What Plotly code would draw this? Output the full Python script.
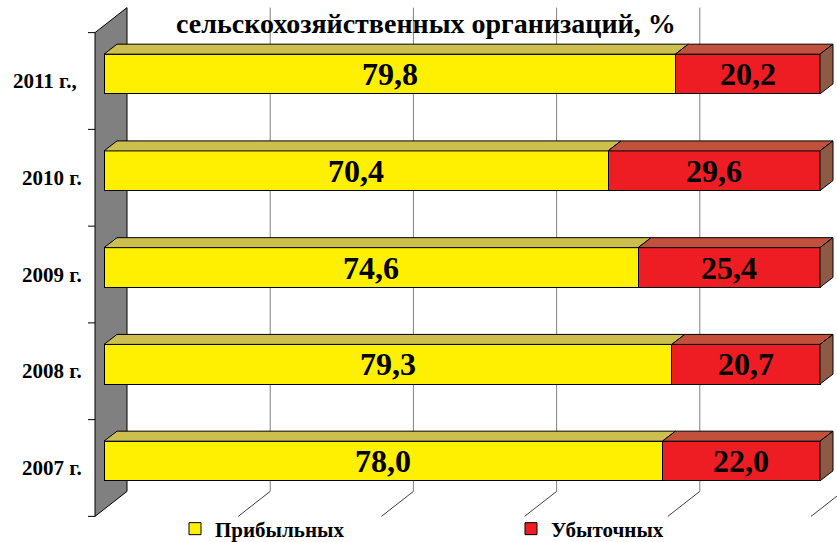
import plotly.graph_objects as go

# ---- data ----
categories = ["2007 г.", "2008 г.", "2009 г.", "2010 г.", "2011 г.,\u00a0"]
profitable = [78.0, 79.3, 74.6, 70.4, 79.8]
unprofitable = [22.0, 20.7, 25.4, 29.6, 20.2]
series_names = ["Прибыльных", "Убыточных"]
grid_ticks = [0, 20, 40, 60, 80, 100]
title_text = "сельскохозяйственных организаций, %"

# ---- styles ----
W, H = 837, 542
PX_X = 7.16     # pixels per % on x
PX_Y = 96.75    # pixels per category on y
X0_PX = 104     # pixel of 0% on bar front face
Y0_PX = 461     # pixel of first category center on bar front face
BAR_W = 0.41
SERIF = "Liberation Serif, Times New Roman, serif"

front_cols = ["#FFEF00", "#EE1D24"]
top_cols = ["#CCBF4E", "#C1503C"]
side_col = "#8E5A45"


def dx(px):
    return px / PX_X


def dy(px):
    return -px / PX_Y


xr = [-X0_PX / PX_X, (W - X0_PX) / PX_X]
yr = [(Y0_PX - H) / PX_Y, Y0_PX / PX_Y]

ypos = list(range(len(categories)))
n = len(categories)

fig = go.Figure()
fig.add_trace(go.Bar(
    y=ypos, x=profitable, orientation="h", width=BAR_W, name=series_names[0],
    marker=dict(color=front_cols[0], line=dict(color="black", width=1)),
))
fig.add_trace(go.Bar(
    y=ypos, x=unprofitable, base=profitable, orientation="h", width=BAR_W,
    name=series_names[1],
    marker=dict(color=front_cols[1], line=dict(color="black", width=1)),
))

shapes = []
# back wall gridlines + floor lines
bx, by = dx(23), dy(-18)
fx, fy = dx(-9), dy(7)
ylo, yhi = -0.5, n - 0.5
for v in grid_ticks[1:]:
    shapes.append(dict(type="line", xref="x", yref="y", layer="below",
                       x0=v + bx, x1=v + bx, y0=ylo + by, y1=yhi + by,
                       line=dict(color="#808080", width=1)))
    shapes.append(dict(type="line", xref="x", yref="y", layer="below",
                       x0=v + bx, x1=v + fx, y0=ylo + by, y1=ylo + fy,
                       line=dict(color="#404040", width=1)))
# left wall
wall = (f"M{fx},{ylo + fy} L{fx},{yhi + fy} L{bx},{yhi + by} "
        f"L{bx},{ylo + by} Z")
shapes.append(dict(type="path", xref="x", yref="y", layer="below", path=wall,
                   fillcolor="#808080", line=dict(color="black", width=1)))
# ticks on axis
for k in range(n + 1):
    yk = k - 0.5 + fy
    shapes.append(dict(type="line", xref="x", yref="y", layer="below",
                       x0=dx(-16), x1=fx, y0=yk, y1=yk,
                       line=dict(color="black", width=1)))

# 3D top and side faces of bars
ddx, ddy = dx(13), dy(-10)
for i in range(n):
    segs = [(0, profitable[i]), (profitable[i], profitable[i] + unprofitable[i])]
    yt = i + BAR_W / 2
    yb = i - BAR_W / 2
    for s, (a, b) in enumerate(segs):
        p = (f"M{a},{yt} L{b},{yt} L{b + ddx},{yt + ddy} L{a + ddx},{yt + ddy} Z")
        shapes.append(dict(type="path", xref="x", yref="y", layer="above", path=p,
                           fillcolor=top_cols[s], line=dict(color="black", width=1)))
    end = segs[-1][1]
    p = (f"M{end},{yb} L{end},{yt} L{end + ddx},{yt + ddy} L{end + ddx},{yb + ddy} Z")
    shapes.append(dict(type="path", xref="x", yref="y", layer="above", path=p,
                       fillcolor=side_col, line=dict(color="black", width=1)))

annotations = []
# value labels
for i in range(n):
    for s, (a, v) in enumerate([(0, profitable[i]), (profitable[i], unprofitable[i])]):
        annotations.append(dict(
            x=a + v / 2, y=i, xref="x", yref="y", showarrow=False,
            text=f"{v:.1f}".replace(".", ","),
            font=dict(family=SERIF, size=32, color="black", weight="bold"),
            xanchor="center", yanchor="middle"))
# category labels
for i, c in enumerate(categories):
    annotations.append(dict(
        x=dx(-20), y=i + fy, xref="x", yref="y", showarrow=False, text=c,
        font=dict(family=SERIF, size=21, color="black", weight="bold"),
        xanchor="right", yanchor="middle"))
# title
annotations.append(dict(
    x=426 / W, y=1 - 24 / H, xref="paper", yref="paper", showarrow=False,
    text=title_text,
    font=dict(family=SERIF, size=28, color="black", weight="bold"),
    xanchor="center", yanchor="middle"))

fig.update_layout(
    width=W, height=H,
    margin=dict(l=0, r=0, t=0, b=0, pad=0, autoexpand=False),
    barmode="stack",
    paper_bgcolor="white", plot_bgcolor="white",
    xaxis=dict(range=xr, visible=False, fixedrange=True),
    yaxis=dict(range=yr, visible=False, fixedrange=True),
    shapes=shapes, annotations=annotations,
    showlegend=True,
    legend=dict(orientation="h", x=175 / W, y=(H - 529) / H,
                xanchor="left", yanchor="middle",
                entrywidth=291, entrywidthmode="pixels",
                font=dict(family=SERIF, size=21, color="black", weight="bold"),
                bgcolor="rgba(0,0,0,0)", traceorder="normal"),
)

fig.write_html("out.html",
               config={"displayModeBar": False},
               post_script="document.body.style.margin='0';"
                           "document.body.style.overflow='hidden';")
